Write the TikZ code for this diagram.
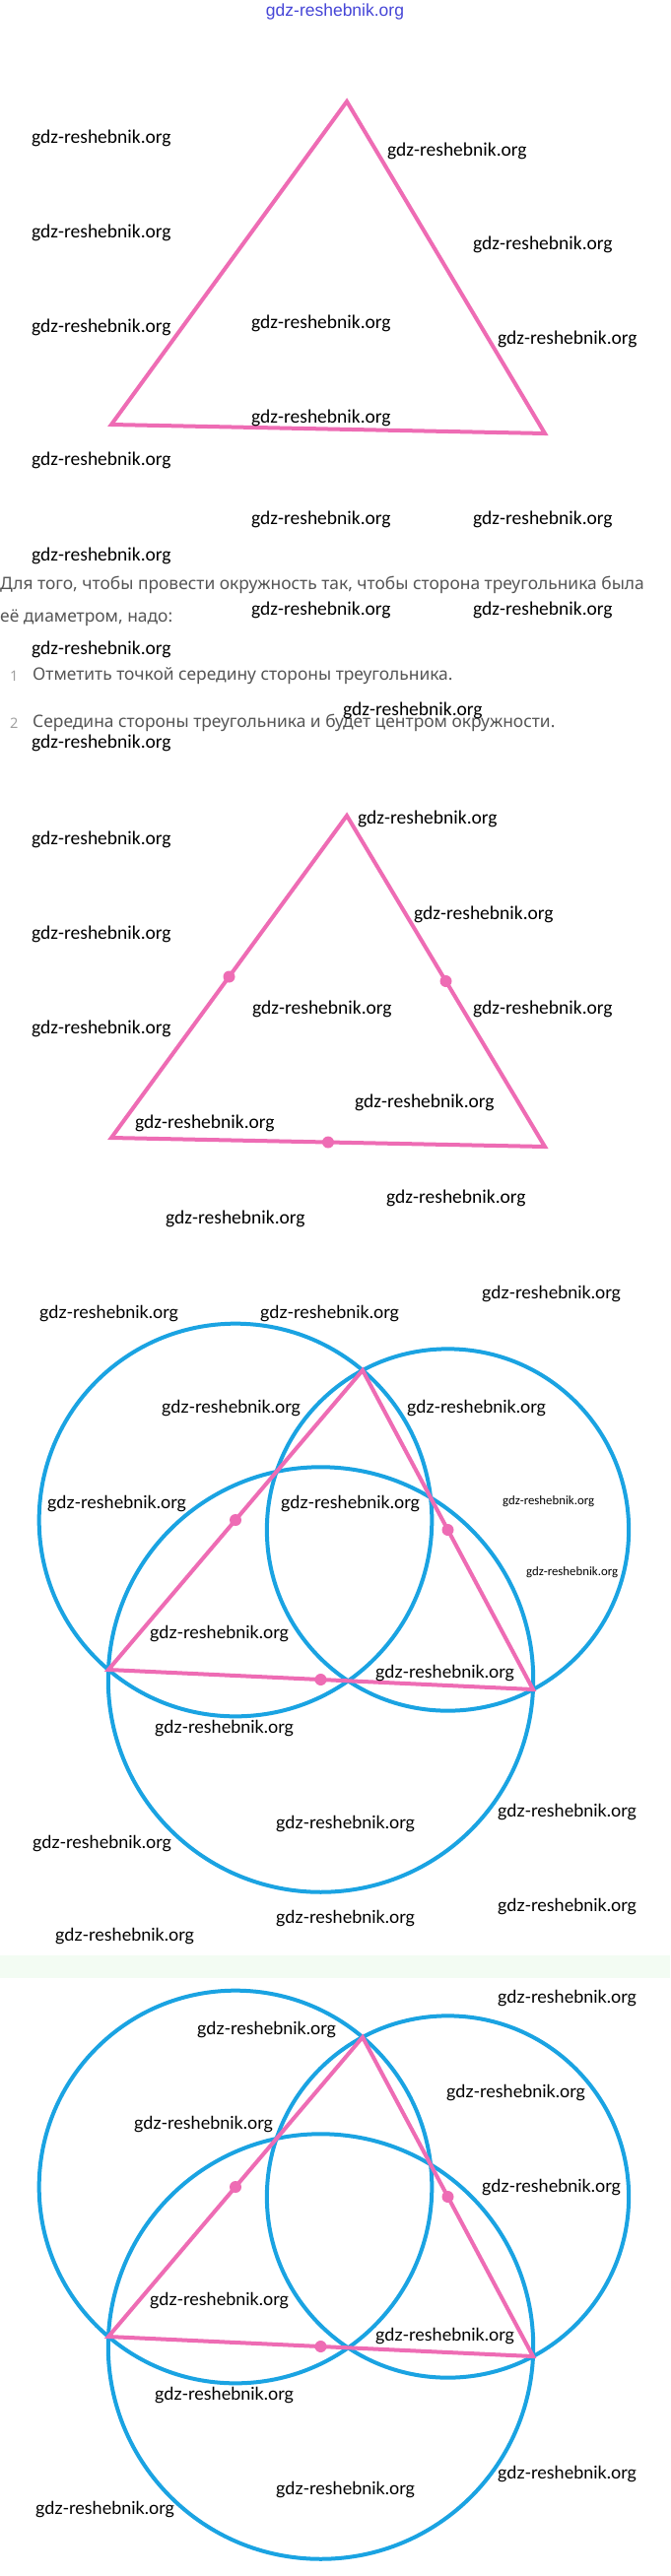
\documentclass[tikz,border=0pt]{standalone}
\usepackage{fontspec}
\setmainfont{Carlito}
\newfontfamily\latofont{Lato}
\newfontfamily\bodyfont{Noto Sans}
\newfontfamily\hdrfont{Liberation Sans}
\usetikzlibrary{calc}
\definecolor{pinkline}{RGB}{238,108,180}
\definecolor{blueline}{RGB}{26,163,226}
\definecolor{hdrblue}{RGB}{70,70,215}
\definecolor{bodygray}{RGB}{85,85,85}
\definecolor{numgray}{RGB}{160,160,160}
\definecolor{bandgreen}{RGB}{243,252,243}
\begin{document}
\begin{tikzpicture}[x=1pt,y=-1pt,
  wm/.style={anchor=west,inner sep=0,font=\fontsize{19.5}{20}\selectfont},
  wml/.style={anchor=west,inner sep=0,font=\latofont\fontsize{18}{19}\selectfont},
  wms/.style={anchor=west,inner sep=0,font=\fontsize{12.8}{13}\selectfont},
  tri/.style={draw=pinkline,line width=4pt},
  circ/.style={draw=blueline,line width=4pt},
  middot/.style={fill=pinkline},
  body/.style={anchor=west,inner sep=0,text=bodygray,font=\bodyfont\fontsize{17.4}{20}\selectfont},
  num/.style={anchor=west,inner sep=0,text=numgray,font=\bodyfont\fontsize{14.5}{18}\selectfont},
]
\fill[white] (0,0) rectangle (680,2615);
\useasboundingbox (0,0) rectangle (680,2615);

% header
\node[inner sep=0,text=hdrblue,font=\hdrfont\fontsize{17.5}{18}\selectfont] (hdr) at (340,12) {gdz-reshebnik.org};

% ---------- section 1: triangle ----------
\coordinate (A1) at (352,103);
\coordinate (B1) at (113,431);
\coordinate (C1) at (553,440);
\draw[tri] (A1) -- (B1) -- (C1) -- cycle;

% ---------- text ----------
\node[body] (t1) at (0,594) {Для того, чтобы провести окружность так, чтобы сторона треугольника была};
\node[body] (t2) at (0,627) {её диаметром, надо:};
\node[num] (n1) at (10,686) {1};
\node[body] (i1) at (33,686) {Отметить точкой середину стороны треугольника.};
\node[num] (n2) at (10,734) {2};
\node[body] (i2) at (33,734) {Середина стороны треугольника и будет центром окружности.};

% ---------- section 2: triangle with midpoints ----------
\coordinate (A2) at (352,828);
\coordinate (B2) at (113,1155);
\coordinate (C2) at (553,1164);
\draw[tri] (A2) -- (B2) -- (C2) -- cycle;
\fill[middot] ($(A2)!0.5!(B2)$) circle[radius=6pt];
\fill[middot] ($(A2)!0.5!(C2)$) circle[radius=6pt];
\fill[middot] ($(B2)!0.5!(C2)$) circle[radius=6pt];

% ---------- section 3: circles ----------
\coordinate (A3) at (368,1391);
\coordinate (B3) at (110,1695);
\coordinate (C3) at (541,1715);
\draw[circ] let \p1=($(A3)-(B3)$), \n1={veclen(\x1,\y1)/2} in ($(A3)!0.5!(B3)$) circle[radius=\n1];
\draw[circ] let \p1=($(A3)-(C3)$), \n1={veclen(\x1,\y1)/2} in ($(A3)!0.5!(C3)$) circle[radius=\n1];
\draw[circ] let \p1=($(B3)-(C3)$), \n1={veclen(\x1,\y1)/2} in ($(B3)!0.5!(C3)$) circle[radius=\n1];
\draw[tri] (A3) -- (B3) -- (C3) -- cycle;
\fill[middot] ($(A3)!0.5!(B3)$) circle[radius=6pt];
\fill[middot] ($(A3)!0.5!(C3)$) circle[radius=6pt];
\fill[middot] ($(B3)!0.5!(C3)$) circle[radius=6pt];

% ---------- band ----------
\fill[bandgreen] (0,1985) rectangle (680,2008);

% ---------- section 4: circles ----------
\coordinate (A4) at (368,2068);
\coordinate (B4) at (110,2372);
\coordinate (C4) at (541,2392);
\draw[circ] let \p1=($(A4)-(B4)$), \n1={veclen(\x1,\y1)/2} in ($(A4)!0.5!(B4)$) circle[radius=\n1];
\draw[circ] let \p1=($(A4)-(C4)$), \n1={veclen(\x1,\y1)/2} in ($(A4)!0.5!(C4)$) circle[radius=\n1];
\draw[circ] let \p1=($(B4)-(C4)$), \n1={veclen(\x1,\y1)/2} in ($(B4)!0.5!(C4)$) circle[radius=\n1];
\draw[tri] (A4) -- (B4) -- (C4) -- cycle;
\fill[middot] ($(A4)!0.5!(B4)$) circle[radius=6pt];
\fill[middot] ($(A4)!0.5!(C4)$) circle[radius=6pt];
\fill[middot] ($(B4)!0.5!(C4)$) circle[radius=6pt];

% ---------- watermarks ----------
\foreach \x/\y [count=\i] in {32/140,393/153,32/236,480/248,32/332,255/328,505/344,255/424,32/467,255/527,480/527,32/564,255/619,480/619,32/659,348/721,32/754,
  363/831,32/852,420/928,32/948,256/1024,480/1024,32/1044,360/1119,137/1140,392/1216,168/1237}
  \node[wm] (w\i) at (\x,\y) {gdz-reshebnik.org};
\foreach \x/\y [count=\i] in {40/1333,264/1333,489/1313,164/1429,413/1429,48/1526,285/1526,152/1658,381/1698,157/1754,505/1839,280/1851,33/1871,505/1935,280/1947,56/1965,
  505/2028,200/2060,453/2124,136/2156,489/2220,152/2335,381/2371,157/2431,505/2511,280/2527,36/2547}
  \node[wml] (v\i) at (\x,\y) {gdz-reshebnik.org};
\node[wms] (s1) at (510,1524) {gdz-reshebnik.org};
\node[wms] (s2) at (534,1596) {gdz-reshebnik.org};
\end{tikzpicture}
\end{document}
